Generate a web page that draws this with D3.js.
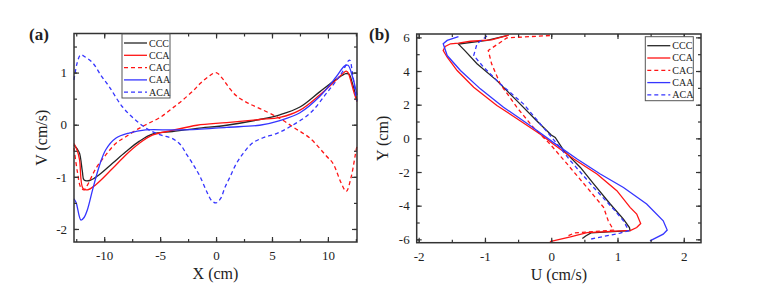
<!DOCTYPE html>
<html>
<head>
<meta charset="utf-8">
<script src="https://cdnjs.cloudflare.com/ajax/libs/d3/7.8.5/d3.min.js"></script>
<style>
body { margin: 0; background: #fff; }
text { font-family: "Liberation Serif", "Times New Roman", serif; fill: #222; }
</style>
</head>
<body>
<script>
// series names, shared by both panels
var names = ['CCC', 'CCA', 'CAC', 'CAA', 'ACA'],
    colors = ['#262626', '#ff1414', '#ff1414', '#3535ff', '#3535ff'],
    dashed = [false, false, true, false, true];

// panel (a): V vs X, pairs [x, v]
var cccA = [[-12.7,-0.39],[-12.4,-0.47],[-12.2,-0.55],[-11.95,-0.9],[-11.8,-1.06],[-11.3,-1.07],[-10.45,-0.96],[-9.26,-0.74],[-8.07,-0.52],[-6.88,-0.32],[-5.7,-0.18],[-3.9,-0.13],[-1.7,-0.07],[0.95,-0.01],[3.9,0.1],[5.7,0.19],[7.5,0.34],[9.26,0.63],[10.75,0.87],[11.6,0.98],[11.9,0.97],[12.1,0.86],[12.6,0.47]],
    ccaA = [[-12.7,-0.36],[-12.4,-0.5],[-12.2,-0.68],[-11.9,-1.22],[-11.5,-1.25],[-10.75,-1.15],[-9.26,-0.84],[-8.07,-0.58],[-6.88,-0.36],[-5.7,-0.2],[-3.9,-0.11],[-1.7,-0.01],[0.95,0.04],[3.9,0.1],[5.7,0.14],[7.5,0.28],[9.26,0.57],[10.75,0.86],[11.64,1.03],[11.8,1.0],[12.1,0.8],[12.3,0.64],[12.6,0.44]],
    cacA = [[-12.7,-0.45],[-12.4,-0.9],[-12.1,-1.2],[-11.8,-1.25],[-11.5,-1.16],[-10.75,-0.84],[-9.86,-0.58],[-8.97,-0.36],[-8.07,-0.23],[-6.88,-0.07],[-6,0.03],[-5,0.14],[-3.95,0.31],[-3,0.47],[-2,0.66],[-1.42,0.79],[-0.7,0.92],[0,1.0],[0.6,0.88],[1.2,0.7],[1.84,0.55],[2.8,0.42],[3.92,0.31],[5.7,0.12],[7,-0.06],[8.4,-0.26],[9.86,-0.6],[10.45,-0.74],[11.19,-1.12],[11.64,-1.28],[12.08,-1.0],[12.47,-0.55],[12.6,-0.4]],
    caaA = [[-12.7,-1.42],[-12.5,-1.5],[-12.08,-1.83],[-11.8,-1.78],[-11.5,-1.63],[-11.04,-1.25],[-10.45,-0.8],[-9.86,-0.48],[-8.97,-0.26],[-7.78,-0.16],[-6.3,-0.1],[-3.9,-0.1],[-1.7,-0.09],[0.95,-0.05],[3.9,-0.01],[5.7,0.08],[7.5,0.23],[9.26,0.54],[10.75,0.92],[11.5,1.13],[11.8,1.14],[12.2,0.92],[12.6,0.57]],
    acaA = [[-12.7,0.86],[-12.4,1.2],[-12.1,1.34],[-11.7,1.3],[-11.0,1.18],[-10.3,0.95],[-9.55,0.73],[-8.4,0.35],[-7.2,0.09],[-6.0,-0.1],[-4.9,-0.2],[-3.95,-0.26],[-3.2,-0.38],[-2.6,-0.58],[-2.0,-0.78],[-1.42,-1.0],[-0.8,-1.3],[-0.38,-1.46],[0,-1.5],[0.4,-1.42],[0.8,-1.2],[1.25,-1.0],[1.8,-0.75],[2.43,-0.55],[3.2,-0.36],[4.2,-0.25],[5.4,-0.17],[6.6,-0.04],[8.4,0.22],[9.86,0.6],[11.2,0.98],[11.93,1.24],[12.2,0.98],[12.5,0.54],[12.6,0.45]];

// panel (b): Y vs U, pairs [u, y]
var cccB = [[-0.67,6.11],[-0.97,5.82],[-1.4,5.6],[-1.3,5.2],[-1.12,4.43],[-0.82,3.43],[-0.52,2.24],[-0.22,1.05],[0.0,0.2],[0.06,0.05],[0.19,-0.73],[0.44,-1.73],[0.64,-2.71],[0.89,-3.9],[1.09,-4.8],[1.18,-5.3],[1.19,-5.49],[0.6,-5.62],[0.52,-5.8],[0.47,-5.95]],
    ccaB = [[-0.64,6.13],[-0.9,5.85],[-1.22,5.77],[-1.4,5.66],[-1.52,5.62],[-1.6,5.46],[-1.63,5.22],[-1.57,4.82],[-1.42,4.03],[-1.17,3.04],[-0.82,1.95],[-0.47,1.05],[-0.17,0.26],[0.03,-0.33],[0.34,-1.23],[0.69,-2.12],[0.99,-3.11],[1.19,-4.1],[1.29,-4.5],[1.35,-5.06],[1.29,-5.3],[1.2,-5.47],[0.54,-5.6],[0.29,-5.85],[-0.02,-6.13]],
    cacB = [[-0.02,6.11],[-0.67,5.97],[-0.95,5.22],[-0.9,4.43],[-0.77,3.24],[-0.52,1.85],[-0.27,0.65],[-0.02,-0.33],[0.24,-1.52],[0.54,-2.92],[0.79,-4.1],[0.86,-4.9],[0.94,-5.45],[0.35,-5.62],[0.25,-5.8]],
    caaB = [[-1.4,6.05],[-1.57,5.82],[-1.63,5.62],[-1.57,4.92],[-1.37,4.03],[-1.07,2.94],[-0.72,1.85],[-0.32,0.76],[0.03,-0.24],[0.39,-1.23],[0.74,-2.12],[1.09,-2.92],[1.44,-3.9],[1.69,-4.9],[1.75,-5.45],[1.69,-5.69],[1.49,-6.09]],
    acaB = [[-0.97,6.08],[-1.12,5.62],[-1.17,4.92],[-1.02,4.23],[-0.77,3.24],[-0.42,2.05],[-0.12,0.65],[0.09,-0.33],[0.29,-1.33],[0.64,-2.92],[0.94,-4.2],[1.09,-4.9],[1.17,-5.49],[1.04,-5.63],[0.59,-5.99]];

// ticks
var xTicksA = [-10, -5, 0, 5, 10],
    xMinorA = d3.range(-12.5, 12.6, 2.5),
    yTicksA = [-2, -1, 0, 1],
    yMinorA = d3.range(-2, 1.6, 0.5),
    xTicksB = [-2, -1, 0, 1, 2],
    xMinorB = d3.range(-2, 2.1, 0.5),
    yTicksB = [-6, -4, -2, 0, 2, 4, 6],
    yMinorB = d3.range(-6, 6.1, 1);

var svg = d3.select('body').append('svg')
    .attr('width', 758)
    .attr('height', 290)
    .attr('font-family', '"Liberation Serif", serif');

function panel(o) {
    var x = d3.scaleLinear().domain(o.xDomain).range([o.left, o.right]),
        y = d3.scaleLinear().domain(o.yDomain).range([o.bottom, o.top]),
        g = svg.append('g');

    var line = d3.line()
        .x(function (d) { return x(d[0]); })
        .y(function (d) { return y(d[1]); })
        .curve(o.curve);

    g.selectAll('path.line')
        .data(o.series)
        .enter()
        .append('path')
        .attr('class', 'line')
        .attr('d', function (d) { return line(d); })
        .attr('fill', 'none')
        .attr('stroke', function (d, i) { return colors[i]; })
        .attr('stroke-width', 1.3)
        .attr('stroke-dasharray', function (d, i) { return dashed[i] ? '4,3' : null; });

    function fmt(d) { return String(d); }

    // major + minor ticks, inward, on all four sides
    var axes = [
        [d3.axisBottom(x).tickValues(o.xTicks).tickFormat(fmt).tickPadding(9), 'translate(0,' + o.bottom + ')'],
        [d3.axisLeft(y).tickValues(o.yTicks).tickFormat(fmt).tickPadding(7), 'translate(' + o.left + ',0)'],
        [d3.axisTop(x).tickValues(o.xTicks).tickFormat(''), 'translate(0,' + o.top + ')'],
        [d3.axisRight(y).tickValues(o.yTicks).tickFormat(''), 'translate(' + o.right + ',0)']
    ];
    axes.forEach(function (a) {
        var ax = g.append('g').attr('transform', a[1]).call(a[0].tickSizeInner(-5).tickSizeOuter(0));
        ax.attr('font-family', null);
        ax.select('.domain').remove();
        ax.selectAll('line').attr('stroke', '#333').attr('stroke-width', 1.2);
        ax.selectAll('text').attr('font-size', 13).attr('fill', '#222');
    });
    var minors = [
        [d3.axisBottom(x).tickValues(o.xMinor), 'translate(0,' + o.bottom + ')'],
        [d3.axisLeft(y).tickValues(o.yMinor), 'translate(' + o.left + ',0)'],
        [d3.axisTop(x).tickValues(o.xMinor), 'translate(0,' + o.top + ')'],
        [d3.axisRight(y).tickValues(o.yMinor), 'translate(' + o.right + ',0)']
    ];
    minors.forEach(function (a) {
        var ax = g.append('g').attr('transform', a[1]).call(a[0].tickFormat('').tickSizeInner(-3).tickSizeOuter(0));
        ax.select('.domain').remove();
        ax.selectAll('line').attr('stroke', '#333').attr('stroke-width', 1.2);
    });

    g.append('rect')
        .attr('x', o.left).attr('y', o.top)
        .attr('width', o.right - o.left).attr('height', o.bottom - o.top)
        .attr('fill', 'none').attr('stroke', '#333').attr('stroke-width', 1.5);

    // axis titles and panel tag
    g.append('text')
        .attr('x', (o.left + o.right) / 2).attr('y', o.bottom + 37)
        .attr('text-anchor', 'middle').attr('font-size', 16)
        .text(o.xTitle);
    g.append('text')
        .attr('transform', 'translate(' + o.yTitleX + ',' + (o.top + o.bottom) / 2 + ') rotate(-90)')
        .attr('text-anchor', 'middle').attr('font-size', 16)
        .text(o.yTitle);
    g.append('text')
        .attr('x', o.tagX).attr('y', 40)
        .attr('font-size', 17).attr('font-weight', 'bold')
        .text(o.tag);

    // legend
    var lg = g.append('g').attr('transform', 'translate(' + o.legX + ',' + o.legY + ')');
    lg.append('rect')
        .attr('width', 48).attr('height', 64)
        .attr('fill', '#fff').attr('stroke', '#555').attr('stroke-width', 1);
    names.forEach(function (n, i) {
        var yy = 9 + i * 12.3;
        lg.append('line')
            .attr('x1', 2).attr('x2', 25).attr('y1', yy).attr('y2', yy)
            .attr('stroke', colors[i]).attr('stroke-width', 1.3)
            .attr('stroke-dasharray', dashed[i] ? '4,3' : null);
        lg.append('text')
            .attr('x', 27).attr('y', yy + 3.5)
            .attr('font-size', 10)
            .text(n);
    });
}

panel({
    left: 74, right: 357, top: 33.5, bottom: 242,
    xDomain: [-12.7, 12.6], yDomain: [-2.25, 1.75],
    xTicks: xTicksA, xMinor: xMinorA, yTicks: yTicksA, yMinor: yMinorA,
    series: [cccA, ccaA, cacA, caaA, acaA],
    curve: d3.curveCatmullRom.alpha(0.5),
    xTitle: 'X (cm)', yTitle: 'V (cm/s)', yTitleX: 47,
    tag: '(a)', tagX: 29,
    legX: 122, legY: 34
});

panel({
    left: 416.7, right: 701, top: 34, bottom: 242.7,
    xDomain: [-2.03, 2.26], yDomain: [-6.2, 6.2],
    xTicks: xTicksB, xMinor: xMinorB, yTicks: yTicksB, yMinor: yMinorB,
    series: [cccB, ccaB, cacB, caaB, acaB],
    curve: d3.curveLinear,
    xTitle: 'U (cm/s)', yTitle: 'Y (cm)', yTitleX: 388,
    tag: '(b)', tagX: 369,
    legX: 645.3, legY: 36.7
});
</script>
</body>
</html>
